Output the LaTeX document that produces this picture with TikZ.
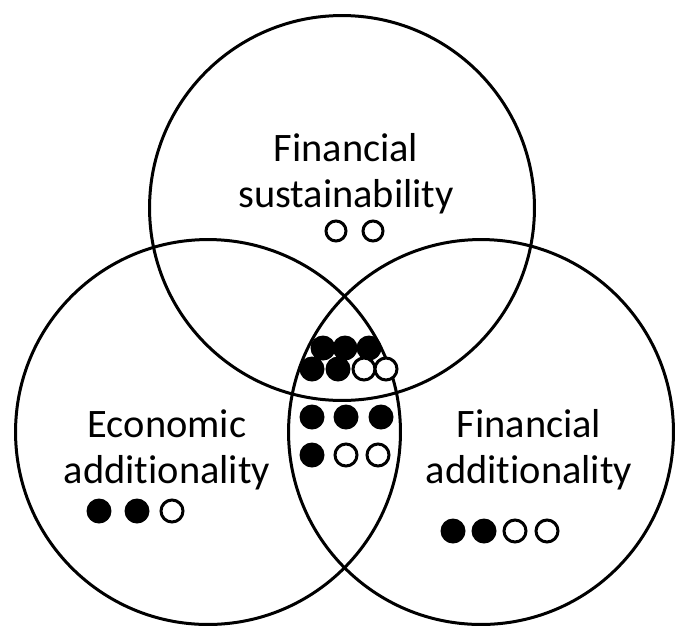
\documentclass[tikz,border=0pt]{standalone}
\usepackage{fontspec}
\setmainfont[Ligatures=NoCommon]{Carlito}

\begin{document}
\begin{tikzpicture}[x=0.02cm, y=-0.02cm,
    set/.style={shape=circle, draw, line width=0.06cm, minimum size=7.7cm, inner sep=0pt},
    lab/.style={align=center, font=\fontsize{23}{26}\selectfont},
    full/.style={shape=circle, fill, inner sep=0pt, minimum size=0.5cm},
    hollow/.style={shape=circle, draw, fill=white, line width=0.06cm, inner sep=0pt, minimum size=0.44cm}]
    \useasboundingbox (0,0) rectangle (675,626);
    % the three sets
    \node[set] (sust) at (342,208) {};
    \node[set] (econ) at (208,432) {};
    \node[set] (fina) at (481,432) {};
    % labels
    \node[lab] (sustlab) at (346,174) {Financial\\sustainability};
    \node[lab] (econlab) at (167,450) {Economic\\additionality};
    \node[lab] (finalab) at (529,450) {Financial\\additionality};
    % sustainability only
    \node[hollow, minimum size=0.4cm] (s1) at (336,231) {};
    \node[hollow, minimum size=0.4cm] (s2) at (373,231) {};
    % economic only
    \node[full] (e1) at (99,511) {};
    \node[full] (e2) at (137,511) {};
    \node[hollow] (e3) at (172,511) {};
    % financial only
    \node[full] (f1) at (453,531) {};
    \node[full] (f2) at (484,531) {};
    \node[hollow] (f3) at (515,531) {};
    \node[hollow] (f4) at (547,531) {};
    % all three
    \node[full] (a1) at (323,348) {};
    \node[full] (a2) at (345,348) {};
    \node[full] (a3) at (369,348) {};
    \node[full] (a4) at (312,369) {};
    \node[full] (a5) at (338,369) {};
    \node[hollow] (a6) at (364,369) {};
    \node[hollow] (a7) at (386,369) {};
    % economic and financial
    \node[full] (b1) at (312,417) {};
    \node[full] (b2) at (346,417) {};
    \node[full] (b3) at (381,417) {};
    \node[full] (b4) at (312,455) {};
    \node[hollow] (b5) at (346,455) {};
    \node[hollow] (b6) at (378,455) {};
\end{tikzpicture}
\end{document}
